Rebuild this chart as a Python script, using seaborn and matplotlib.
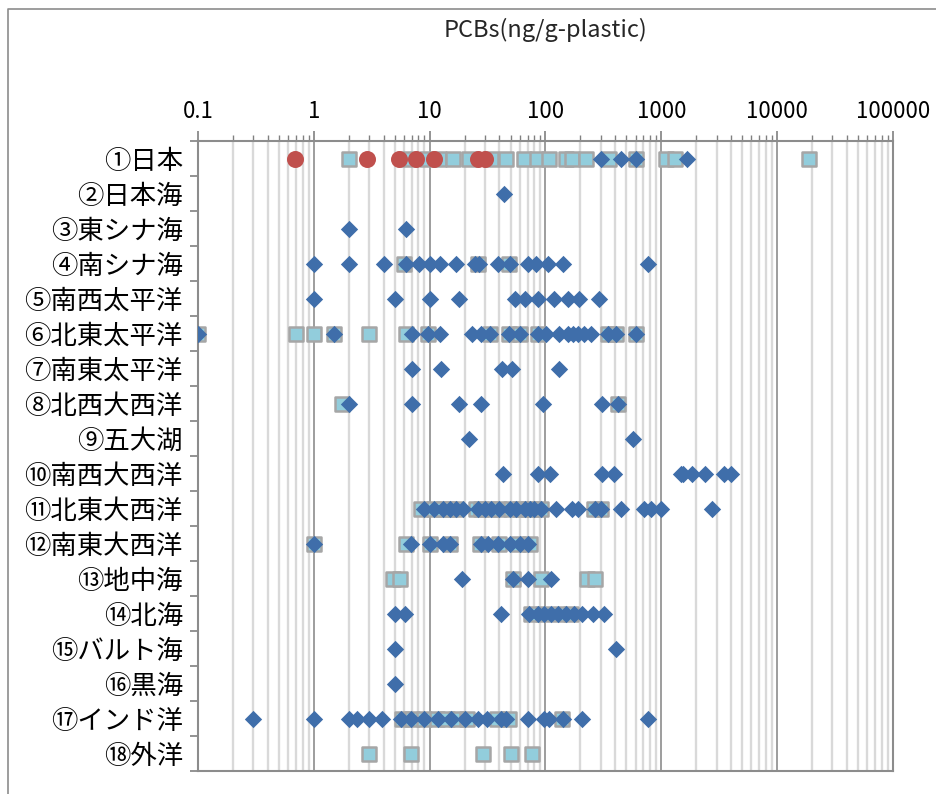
import numpy as np
import pandas as pd
import matplotlib
matplotlib.use("Agg")
import matplotlib.pyplot as plt
from matplotlib.lines import Line2D
from matplotlib.ticker import LogLocator, FuncFormatter, FixedLocator, NullFormatter
import seaborn as sns

# ---------------- data ----------------
categories = ["①日本", "②日本海", "③東シナ海", "④南シナ海", "⑤南西太平洋", "⑥北東太平洋",
              "⑦南東太平洋", "⑧北西大西洋", "⑨五大湖", "⑩南西大西洋", "⑪北東大西洋",
              "⑫南東大西洋", "⑬地中海", "⑭北海", "⑮バルト海", "⑯黒海", "⑰インド洋", "⑱外洋"]

# blue diamonds
r01_d = [300, 450, 600, 1650]
r02_d = [44]
r03_d = [2.0, 6.2]
r04_d = [1.0, 2.0, 4.0, 6.2, 8.1, 10.1, 12.3, 17, 24.5, 26.5, 39, 49, 70, 83, 106, 143, 760]
r05_d = [1.0, 5.0, 10, 18, 54, 66, 87, 119, 155, 195, 290]
r06_d = [0.1, 1.5, 7.0, 9.7, 12.2, 23, 28, 33, 48, 60, 86, 101, 132, 155, 172, 189, 216, 246, 345, 410, 600]
r07_d = [7.0, 12.5, 42, 51, 132]
r08_d = [2.0, 7.0, 18, 28, 95, 310, 420]
r09_d = [22, 575]
r10_d = [43, 87, 110, 306, 390, 1470, 1550, 1850, 2400, 3500, 4000]
r11_d = [9.0, 11, 13, 15, 17, 19.5, 26, 30, 34, 40, 49, 56, 66, 73, 80, 92, 123, 170, 190, 270, 300, 450, 710, 810, 990, 2760]
r12_d = [1.0, 6.9, 10, 13, 15, 28, 32, 39, 49, 60, 70]
r13_d = [19, 52, 70, 111]
r14_d = [5.0, 6.1, 41, 72, 86, 98, 111, 127, 150, 175, 205, 255, 320]
r15_d = [5.0, 405]
r16_d = [5.0]
r17_d = [0.3, 1.0, 2.0, 2.35, 3.0, 3.85, 5.7, 6.9, 9.0, 11.8, 15.3, 20, 26, 31, 41.5, 46, 70, 98, 108, 141, 207, 760]
r18_d = []

# light-blue squares
r01_s = [2.0, 6.5, 9.5, 12, 16, 22, 34, 46, 65, 85, 108, 150, 170, 225, 350, 600, 1100, 1300, 19000]
r04_s = [6.0, 26, 48]
r06_s = [0.1, 0.7, 1.0, 1.5, 3.0, 6.3, 9.7, 33, 48, 60, 86, 345, 410, 600]
r08_s = [1.75, 420]
r11_s = [8.5, 11, 13, 15, 17, 25, 28, 34, 40, 50, 60, 70, 80, 92, 260, 300]
r12_s = [1.0, 6.3, 10, 15, 27, 40, 58, 74]
r13_s = [4.8, 5.5, 52, 92, 230, 270]
r14_s = [75, 95, 130, 165]
r17_s = [5.8, 7, 9, 11.5, 14, 17, 21, 38, 48, 140]
r18_s = [3.0, 6.9, 29, 50, 77]

# red circles
r01_c = [0.69, 2.85, 5.4, 7.6, 11, 26, 30]

diamond_rows = [r01_d, r02_d, r03_d, r04_d, r05_d, r06_d, r07_d, r08_d, r09_d,
                r10_d, r11_d, r12_d, r13_d, r14_d, r15_d, r16_d, r17_d, r18_d]
square_rows = {0: r01_s, 3: r04_s, 5: r06_s, 7: r08_s, 10: r11_s, 11: r12_s,
               12: r13_s, 13: r14_s, 16: r17_s, 17: r18_s}
circle_rows = {0: r01_c}


def long_frame(rows):
    recs = []
    for i, vals in rows.items():
        for v in vals:
            recs.append({"row": i, "value": v})
    return pd.DataFrame(recs, columns=["row", "value"])


df_d = long_frame(dict(enumerate(diamond_rows)))
df_s = long_frame(square_rows)
df_c = long_frame(circle_rows)

# ---------------- style ----------------
sns.set_style("white")
plt.rcParams["font.family"] = ["Noto Sans CJK JP", "DejaVu Sans"]

W, H = 937, 794
fig = plt.figure(figsize=(W / 100, H / 100), dpi=100)
ax = fig.add_axes([198 / W, 1 - 771 / H, (893 - 198) / W, (771 - 141) / H])

ax.set_xscale("log")

sns.scatterplot(data=df_s, x="value", y="row", ax=ax, marker="s", s=115,
                color="#92CDDC", edgecolor="#A6A6A6", linewidth=1.8, zorder=3, legend=False)
sns.scatterplot(data=df_c, x="value", y="row", ax=ax, marker="o", s=150,
                color="#C0504D", edgecolor="#C0504D", linewidth=0, zorder=4, legend=False)
sns.scatterplot(data=df_d, x="value", y="row", ax=ax, marker="D", s=78,
                color="#3F6EAA", edgecolor="#3F6EAA", linewidth=0, zorder=5, legend=False)

ax.set_xlim(0.1, 100000)
ax.set_ylim(17.5, -0.5)
ax.set_xlabel("")
ax.set_ylabel("")

# x axis on top
ax.xaxis.tick_top()
ax.xaxis.set_major_locator(LogLocator(base=10, numticks=12))
ax.xaxis.set_minor_locator(LogLocator(base=10, subs=np.arange(2, 10), numticks=12))
ax.xaxis.set_minor_formatter(NullFormatter())
ax.xaxis.set_major_formatter(FuncFormatter(lambda v, p: "0.1" if v < 1 else f"{int(round(v))}"))
ax.tick_params(axis="x", which="major", length=7, width=1.2, color="#808080",
               labelsize=16, pad=6, labelcolor="black")
ax.tick_params(axis="x", which="minor", length=4, width=1.0, color="#808080")

ax.grid(which="minor", axis="x", color="#D9D9D9", linewidth=1.7, zorder=0)
ax.grid(which="major", axis="x", color="#8C8C8C", linewidth=1.2, zorder=0)
ax.grid(which="major", axis="y", visible=False)
ax.set_axisbelow(True)

# y axis
ax.set_yticks(range(len(categories)))
ax.set_yticklabels(categories, fontsize=19)
ax.yaxis.set_minor_locator(FixedLocator(np.arange(-0.5, 18, 1)))
ax.tick_params(axis="y", which="major", length=0, pad=11, labelcolor="black")
ax.tick_params(axis="y", which="minor", length=6, width=1.2, color="#808080", left=True)

for sp in ax.spines.values():
    sp.set_color("#8C8C8C")
    sp.set_linewidth(1.5)

fig.text(545 / W, 1 - 30 / H, "PCBs(ng/g-plastic)", ha="center", va="center", fontsize=17)

# outer chart-area frame (left and top edges visible)
fig.add_artist(Line2D([8 / W, 8 / W, 1.0], [0.0, 1 - 9 / H, 1 - 9 / H],
                      transform=fig.transFigure, color="#8C8C8C", linewidth=1.2))

fig.savefig("out.png", dpi=100)
